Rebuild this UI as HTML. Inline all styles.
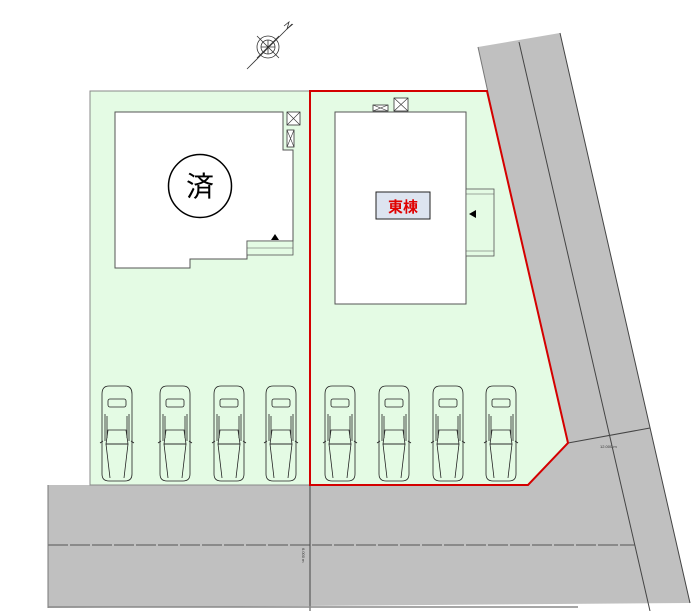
<!DOCTYPE html>
<html><head><meta charset="utf-8"><style>
html,body{margin:0;padding:0;background:#fff;}
svg{display:block}
text{font-family:"Liberation Sans","Noto Sans CJK JP",sans-serif}
</style></head><body>
<svg width="697" height="611" viewBox="0 0 697 611" xmlns="http://www.w3.org/2000/svg">
<defs>
<g id="car" fill="none" stroke="#222" stroke-width="0.8">
<path d="M3,8 Q3,0 10,0 L26,0 Q33,0 33,8 L33,88 Q33,95 26,95 L10,95 Q3,95 3,88 Z"/>
<rect x="9" y="13" width="18" height="8" rx="2"/>
<path d="M6,28 L6,55 M30,28 L30,55 M8,30 L8,52 M28,30 L28,52"/>
<path d="M9,44 L27,44 L29,58 L7,58 Z"/>
<path d="M7,58 L11,92 M29,58 L25,92 M7,58 L29,58"/>
<path d="M1,57 L4,55 M35,57 L32,55"/>
</g>
</defs>
<!-- roads -->
<polygon points="478,47 560,33 690,603 48,608 48,485 528,485 568,443" fill="#c0c0c0"/>
<line x1="478" y1="47" x2="565" y2="443" stroke="#777" stroke-width="1"/>
<line x1="560" y1="33" x2="690" y2="603" stroke="#444" stroke-width="1"/>
<line x1="519" y1="42" x2="650" y2="611" stroke="#444" stroke-width="1"/>
<line x1="568" y1="443" x2="650" y2="428" stroke="#444" stroke-width="1"/>
<line x1="48" y1="545" x2="635" y2="545" stroke="#555" stroke-width="1" stroke-dasharray="20,2"/>
<line x1="310" y1="485" x2="310" y2="611" stroke="#444" stroke-width="1"/>
<line x1="48" y1="485" x2="48" y2="608" stroke="#777" stroke-width="1"/>
<line x1="48" y1="607" x2="578" y2="607" stroke="#888" stroke-width="1.5"/>
<text x="600" y="448" font-size="4" fill="#333">12.000 m</text>
<text x="302" y="548" font-size="4" fill="#333" transform="rotate(90 302 548)">6.000 m</text>
<!-- lots -->
<rect x="90" y="91" width="220" height="394" fill="#e4fbe4" stroke="#888" stroke-width="1"/>
<polygon points="310,91 487,91 568,443 528,485 310,485" fill="#e4fbe4" stroke="#d40000" stroke-width="2"/>
<!-- left building -->
<polygon points="115,112 283,112 283,150 293,150 293,241 247,241 247,259 190,259 190,268 115,268" fill="#fff" stroke="#555" stroke-width="1"/>
<rect x="247" y="241" width="46" height="14" fill="#e4fbe4" stroke="#555" stroke-width="0.8"/>
<line x1="247" y1="248" x2="293" y2="248" stroke="#555" stroke-width="0.6"/>
<polygon points="271,240 275,234 279,240" fill="#000"/>
<rect x="287" y="112" width="13" height="13" fill="#fff" stroke="#333" stroke-width="0.8"/>
<path d="M287,112 L300,125 M300,112 L287,125" stroke="#333" stroke-width="0.6"/>
<rect x="287" y="130" width="7" height="17" fill="#fff" stroke="#333" stroke-width="0.8"/>
<path d="M287,130 L294,147 M294,130 L287,147" stroke="#333" stroke-width="0.6"/>
<circle cx="200" cy="186" r="31.5" fill="#fff" stroke="#000" stroke-width="1.5"/>
<text x="200" y="196" font-size="28" text-anchor="middle" fill="#000">済</text>
<!-- right building -->
<rect x="335" y="112" width="131" height="192" fill="#fff" stroke="#555" stroke-width="1"/>
<rect x="466" y="189" width="28" height="67" fill="#e4fbe4" stroke="#555" stroke-width="0.8"/>
<line x1="466" y1="194" x2="494" y2="194" stroke="#555" stroke-width="0.6"/>
<line x1="466" y1="251" x2="494" y2="251" stroke="#555" stroke-width="0.6"/>
<polygon points="469,214 476,210 476,218" fill="#000"/>
<rect x="373" y="105" width="15" height="6" fill="#fff" stroke="#333" stroke-width="0.8"/>
<path d="M373,105 L388,111 M388,105 L373,111" stroke="#333" stroke-width="0.6"/>
<rect x="394" y="98" width="14" height="13" fill="#fff" stroke="#333" stroke-width="0.8"/>
<path d="M394,98 L408,111 M408,98 L394,111" stroke="#333" stroke-width="0.6"/>
<rect x="376" y="192" width="54" height="27" fill="#dde4f0" stroke="#222" stroke-width="1"/>
<text x="403" y="212" font-size="15" text-anchor="middle" fill="#e00000" font-weight="bold">東棟</text>
<!-- cars -->
<use href="#car" x="99" y="386"/>
<use href="#car" x="157" y="386"/>
<use href="#car" x="211" y="386"/>
<use href="#car" x="263" y="386"/>
<use href="#car" x="322" y="386"/>
<use href="#car" x="376" y="386"/>
<use href="#car" x="430" y="386"/>
<use href="#car" x="483" y="386"/>
<!-- compass -->
<g stroke="#333" fill="none" stroke-width="0.8">
<circle cx="268" cy="47" r="11"/>
<circle cx="268" cy="47" r="7"/>
<path d="M257,36 L279,58 M279,36 L257,58 M261,47 L275,47 M268,40 L268,54"/>
<line x1="247" y1="69" x2="292" y2="24"/>
<path d="M284,26 L289,22 L287,29 L293,24"/>
</g>
</svg>
</body></html>
